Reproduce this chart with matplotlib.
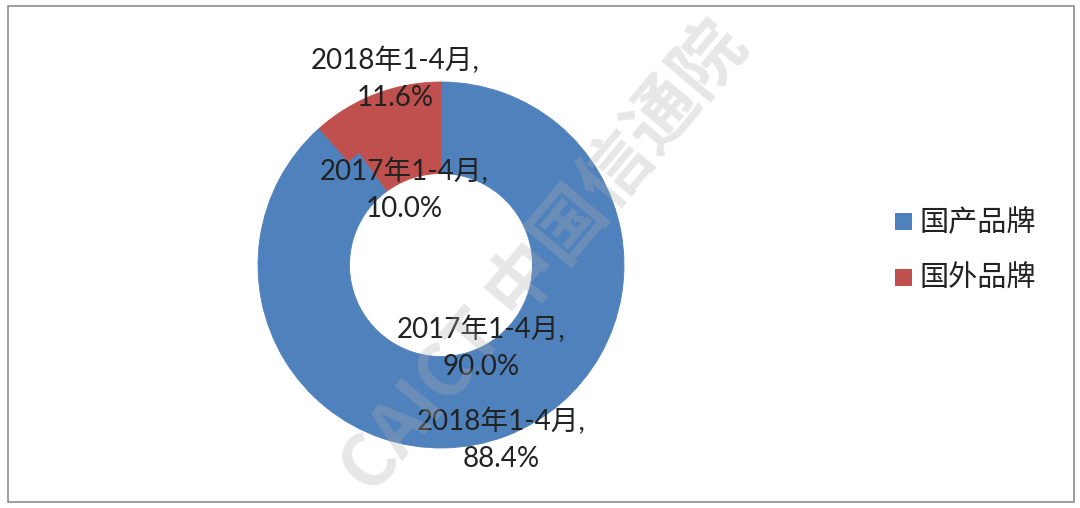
import matplotlib
matplotlib.use("Agg")
import matplotlib.pyplot as plt
from matplotlib.patches import Rectangle

categories = ["国产品牌", "国外品牌"]
years = ["2017年1-4月", "2018年1-4月"]
values_2017 = [90.0, 10.0]
values_2018 = [88.4, 11.6]
colors = ["#4F81BD", "#C0504D"]

W, H = 1080, 508
fig = plt.figure(figsize=(W / 100, H / 100), dpi=100)
fig.patch.set_facecolor("white")

cx, cy, R = 441, 265, 183
half = 200
ax = fig.add_axes([(cx - half) / W, (H - cy - half) / H, 2 * half / W, 2 * half / H])
lim = half / R

wedges_out, _ = ax.pie(values_2018, radius=1.0, colors=colors, startangle=90,
                       counterclock=False, wedgeprops=dict(width=0.25, linewidth=0))
wedges_in, _ = ax.pie(values_2017, radius=0.755, colors=colors, startangle=90,
                      counterclock=False, wedgeprops=dict(width=0.255, linewidth=0))
for w in wedges_out + wedges_in:
    w.set_edgecolor(w.get_facecolor())
    w.set_linewidth(0.6)
ax.set_xlim(-lim, lim)
ax.set_ylim(-lim, lim)
ax.set_aspect("equal")
ax.axis("off")

fam = ["Lato", "Noto Sans CJK SC"]

def px(x, y):
    return (x - cx) / R, (cy - y) / R

label_pos = {
    ("2018年1-4月", 1): (395, 79),
    ("2017年1-4月", 1): (404, 190),
    ("2017年1-4月", 0): (481, 348),
    ("2018年1-4月", 0): (501, 440),
}
for yr, vals in zip(years, [values_2017, values_2018]):
    for i, v in enumerate(vals):
        x, y = px(*label_pos[(yr, i)])
        ax.text(x, y, f"{yr},\n{v:.1f}%", ha="center", va="center",
                fontsize=20, family=fam, color="#222222", linespacing=1.5)

# legend
for i, (cat, col) in enumerate(zip(categories, colors)):
    yy = 222 + i * 56
    fig.patches.append(Rectangle((895 / W, (H - yy - 8) / H), 17 / W, 17 / H,
                                 transform=fig.transFigure, facecolor=col, edgecolor="none"))
    fig.text(920 / W, (H - yy) / H, cat, ha="left", va="center", fontsize=21,
             family=["Noto Sans CJK SC"], color="#222222")

# watermark
fig.text(545 / W, 250 / H, "CAICT 中国信通院", rotation=50, ha="center", va="center",
         fontsize=52, fontweight="bold", family=["Noto Sans CJK SC"], color="#b0b0b0", alpha=0.3)

# border
fig.patches.append(Rectangle((8 / W, 6 / H), 1066 / W, 496 / H, transform=fig.transFigure,
                             facecolor="none", edgecolor="#8c8c8c", linewidth=1.2))

fig.savefig("out.png", dpi=100)
